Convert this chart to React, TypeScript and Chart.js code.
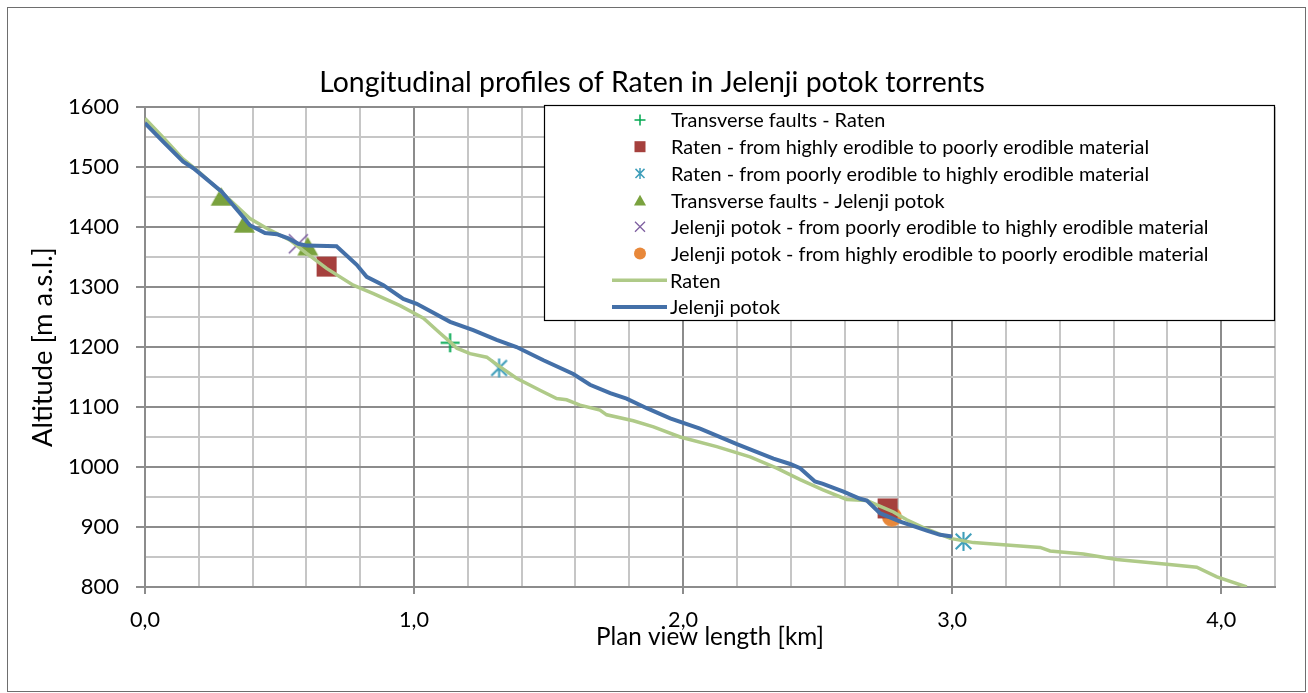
import React, { useEffect, useRef } from "react";
import { Chart, registerables } from "chart.js";

Chart.register(...registerables);

// ---------- texts ----------
const TITLE = "Longitudinal profiles of Raten in Jelenji potok torrents";
const X_TITLE = "Plan view length [km]";
const Y_TITLE = "Altitude [m a.s.l.]";

// ---------- axis ----------
const X_MIN = 0;
const X_MAX = 4.2;
const X_STEP = 0.2;
const Y_MIN = 800;
const Y_MAX = 1600;
const Y_STEP = 50;

// ---------- profile lines ----------
const ratenX = [0, 0.07, 0.14, 0.2, 0.25, 0.316, 0.39, 0.452, 0.539, 0.601, 0.675, 0.774, 0.849, 0.948, 1.035, 1.097, 1.14, 1.159, 1.208, 1.27, 1.32, 1.381, 1.468, 1.53, 1.567, 1.617, 1.691, 1.716, 1.815, 1.89, 1.989, 2.125, 2.249, 2.348, 2.435, 2.52, 2.608, 2.683, 2.782, 2.831, 2.893, 2.993, 3.079, 3.178, 3.327, 3.364, 3.488, 3.612, 3.798, 3.909, 3.984, 4.095];
const ratenY = [1581, 1548, 1514, 1492, 1472, 1445, 1414, 1398, 1378, 1356, 1331, 1303, 1289, 1269, 1248, 1223, 1206, 1198, 1189, 1183, 1167, 1148, 1128, 1114, 1112, 1103, 1095, 1087, 1077, 1067, 1050, 1034, 1017, 998, 979, 962, 946, 944, 925, 912, 899, 881, 874, 871, 866, 860, 855, 846, 838, 833, 817, 800];

const jelenjiX = [0, 0.07, 0.142, 0.18, 0.285, 0.353, 0.39, 0.446, 0.49, 0.533, 0.57, 0.601, 0.712, 0.787, 0.824, 0.886, 0.96, 1.01, 1.134, 1.22, 1.307, 1.381, 1.481, 1.592, 1.654, 1.729, 1.79, 1.865, 1.952, 2.063, 2.2, 2.336, 2.398, 2.435, 2.49, 2.52, 2.596, 2.658, 2.683, 2.732, 2.807, 2.906, 2.955, 3.0];
const jelenjiY = [1573, 1541, 1509, 1498, 1459, 1423, 1403, 1390, 1388, 1381, 1372, 1369, 1368, 1337, 1317, 1303, 1280, 1272, 1242, 1228, 1212, 1200, 1178, 1155, 1137, 1123, 1114, 1098, 1081, 1064, 1038, 1014, 1005, 998, 976, 972, 959, 947, 944, 923, 909, 894, 887, 884];

// ---------- markers ----------
const faultsRatenX = [1.134];
const faultsRatenY = [1207];
const ratenHighToPoorX = [0.675, 2.76];
const ratenHighToPoorY = [1334, 931];
const ratenPoorToHighX = [1.316, 3.042];
const ratenPoorToHighY = [1165, 876];
const faultsJelenjiX = [0.283, 0.369, 0.605];
const faultsJelenjiY = [1451, 1406, 1368];
const jelenjiPoorToHighX = [0.57];
const jelenjiPoorToHighY = [1372];
const jelenjiHighToPoorX = [2.776];
const jelenjiHighToPoorY = [917];

// ---------- colours / styles ----------
const C_RATEN = "#AFCA88";
const C_JELENJI = "#4470A8";
const C_PLUS = "#00A850";
const C_SQUARE = "#A5403D";
const C_ASTER = "#3E9EBA";
const C_TRI = "#7AA23E";
const C_XMARK = "#7E5FA0";
const C_CIRCLE = "#E8883A";
const GRID_MINOR = "#C6C6C6";
const GRID_MAJOR = "#8C8C8C";
const FONT = "Lato, 'Open Sans', sans-serif";

type MarkerType = "plus" | "square" | "asterisk" | "triangle" | "xmark" | "circle";

function drawMarker(ctx: CanvasRenderingContext2D, type: MarkerType, cx: number, cy: number, s: number, color: string) {
  const h = s / 2;
  ctx.save();
  ctx.fillStyle = color;
  ctx.strokeStyle = color;
  ctx.lineCap = "butt";
  ctx.beginPath();
  switch (type) {
    case "plus":
      ctx.lineWidth = Math.max(1.5, s / 9);
      ctx.moveTo(cx - h, cy); ctx.lineTo(cx + h, cy);
      ctx.moveTo(cx, cy - h); ctx.lineTo(cx, cy + h);
      ctx.stroke();
      break;
    case "square":
      ctx.fillRect(cx - h, cy - h, s, s);
      break;
    case "asterisk": {
      ctx.lineWidth = Math.max(1.5, s / 9);
      const d = h * 0.82;
      ctx.moveTo(cx, cy - h); ctx.lineTo(cx, cy + h);
      ctx.moveTo(cx - d, cy - d); ctx.lineTo(cx + d, cy + d);
      ctx.moveTo(cx - d, cy + d); ctx.lineTo(cx + d, cy - d);
      ctx.stroke();
      break;
    }
    case "triangle": {
      const th = s * 0.88;
      ctx.moveTo(cx, cy - th / 2);
      ctx.lineTo(cx + h, cy + th / 2);
      ctx.lineTo(cx - h, cy + th / 2);
      ctx.closePath();
      ctx.fill();
      break;
    }
    case "xmark":
      ctx.lineWidth = Math.max(1.3, s / 12);
      ctx.moveTo(cx - h, cy - h); ctx.lineTo(cx + h, cy + h);
      ctx.moveTo(cx - h, cy + h); ctx.lineTo(cx + h, cy - h);
      ctx.stroke();
      break;
    case "circle":
      ctx.arc(cx, cy, h, 0, Math.PI * 2);
      ctx.fill();
      break;
  }
  ctx.restore();
}

function markerImage(type: MarkerType, s: number, color: string): HTMLCanvasElement {
  const pad = 4;
  const size = Math.ceil(s + pad * 2);
  const c = document.createElement("canvas");
  c.width = size;
  c.height = size;
  const ctx = c.getContext("2d")!;
  drawMarker(ctx, type, size / 2, size / 2, s, color);
  return c;
}

function fitSize(text: string, family: string, target: number): number {
  const ctx = document.createElement("canvas").getContext("2d")!;
  ctx.font = `100px ${family}`;
  const w = ctx.measureText(text).width;
  return w > 0 ? (100 * target) / w : 20;
}

const isInt = (v: number) => Math.abs(v - Math.round(v)) < 1e-6;
const isHundred = (v: number) => Math.abs(v / 100 - Math.round(v / 100)) < 1e-6;
const pts = (xs: number[], ys: number[]) => xs.map((x, i) => ({ x, y: ys[i] }));

export default function App() {
  const ref = useRef<HTMLCanvasElement | null>(null);

  useEffect(() => {
    if (!ref.current) return;

    const titleSize = fitSize(TITLE, FONT, 666);
    const xTitleSize = fitSize(X_TITLE, FONT, 228);
    const yTitleSize = fitSize(Y_TITLE, FONT, 200);
    const legendSize = fitSize("Jelenji potok - from highly erodible to poorly erodible material", FONT, 538);
    const xTickSize = fitSize("0,0", FONT, 30);
    const yTickSize = fitSize("1600", FONT, 51);

    const markerDefs: { label: string; type: MarkerType; color: string; xs: number[]; ys: number[]; size: number; lsize: number }[] = [
      { label: "Transverse faults - Raten", type: "plus", color: C_PLUS, xs: faultsRatenX, ys: faultsRatenY, size: 19, lsize: 11 },
      { label: "Raten - from highly erodible to poorly erodible material", type: "square", color: C_SQUARE, xs: ratenHighToPoorX, ys: ratenHighToPoorY, size: 20, lsize: 11 },
      { label: "Raten - from poorly erodible to highly erodible material", type: "asterisk", color: C_ASTER, xs: ratenPoorToHighX, ys: ratenPoorToHighY, size: 19, lsize: 11 },
      { label: "Transverse faults - Jelenji potok", type: "triangle", color: C_TRI, xs: faultsJelenjiX, ys: faultsJelenjiY, size: 21, lsize: 12 },
      { label: "Jelenji potok - from poorly erodible to highly erodible material", type: "xmark", color: C_XMARK, xs: jelenjiPoorToHighX, ys: jelenjiPoorToHighY, size: 19, lsize: 10 },
      { label: "Jelenji potok - from highly erodible to poorly erodible material", type: "circle", color: C_CIRCLE, xs: jelenjiHighToPoorX, ys: jelenjiHighToPoorY, size: 20, lsize: 12 },
    ];

    const lineDefs = [
      { label: "Raten", color: C_RATEN, width: 3.5 },
      { label: "Jelenji potok", color: C_JELENJI, width: 4 },
    ];

    const datasets: any[] = markerDefs.map((m) => ({
      label: m.label,
      data: pts(m.xs, m.ys),
      pointStyle: markerImage(m.type, m.size, m.color),
      pointRadius: 10,
      pointHoverRadius: 10,
      showLine: false,
      order: 0,
    }));
    datasets.push({
      label: "Raten",
      data: pts(ratenX, ratenY),
      showLine: true,
      borderColor: C_RATEN,
      borderWidth: 3.5,
      pointRadius: 0,
      tension: 0,
      order: -1,
    });
    datasets.push({
      label: "Jelenji potok",
      data: pts(jelenjiX, jelenjiY),
      showLine: true,
      borderColor: C_JELENJI,
      borderWidth: 4,
      pointRadius: 0,
      tension: 0,
      order: -2,
    });

    const titlePlugin = {
      id: "fixedTitle",
      afterDraw(chart: any) {
        const { ctx } = chart;
        ctx.save();
        ctx.font = `${titleSize}px ${FONT}`;
        ctx.fillStyle = "#000";
        ctx.textAlign = "center";
        ctx.textBaseline = "middle";
        ctx.fillText(TITLE, 644, 75);
        ctx.restore();
      },
    };

    const legendPlugin = {
      id: "boxLegend",
      afterDraw(chart: any) {
        const { ctx, chartArea } = chart;
        const w = 731;
        const h = 216;
        const left = chartArea.right - w;
        const top = chartArea.top - 2;
        ctx.save();
        ctx.fillStyle = "#ffffff";
        ctx.fillRect(left, top, w, h);
        ctx.strokeStyle = "#000000";
        ctx.lineWidth = 1.2;
        ctx.strokeRect(left + 0.5, top + 0.5, w - 1, h - 1);
        ctx.font = `${legendSize}px ${FONT}`;
        ctx.textBaseline = "middle";
        ctx.textAlign = "left";
        const rowH = 26.7;
        const textX = left + 127;
        const markX = left + 96;
        markerDefs.forEach((m, i) => {
          const y = top + 15 + rowH * i;
          drawMarker(ctx, m.type, markX, y, m.lsize, m.color);
          ctx.fillStyle = "#000";
          ctx.fillText(m.label, textX, y + 1);
        });
        lineDefs.forEach((l, j) => {
          const y = top + 15 + rowH * (markerDefs.length + j);
          ctx.strokeStyle = l.color;
          ctx.lineWidth = l.width;
          ctx.beginPath();
          ctx.moveTo(left + 68, y);
          ctx.lineTo(left + 123, y);
          ctx.stroke();
          ctx.fillStyle = "#000";
          ctx.fillText(l.label, textX - 1, y + 1);
        });
        ctx.restore();
      },
    };

    const xTitleLH = xTitleSize * 1.2;
    const yTitleLH = yTitleSize * 1.2;
    const xTickLH = xTickSize * 1.2;

    const chart = new Chart(ref.current, {
      type: "scatter",
      data: { datasets },
      plugins: [legendPlugin, titlePlugin],
      options: {
        responsive: false,
        animation: false,
        events: [],
        layout: { padding: { left: 0, right: 30, top: 99, bottom: 0 } },
        plugins: {
          legend: { display: false },
          tooltip: { enabled: false },
          title: { display: false },
        },
        scales: {
          x: {
            type: "linear",
            position: "bottom",
            min: X_MIN,
            max: X_MAX,
            afterFit: (scale: any) => {
              scale.height = 104;
            },
            ticks: {
              stepSize: X_STEP,
              autoSkip: false,
              maxRotation: 0,
              color: "#000",
              font: { family: FONT, size: xTickSize, lineHeight: 1.2 },
              padding: 612 - 579 - 7 - xTickLH / 2,
              callback: (v: any) => (isInt(Number(v)) ? Number(v).toFixed(1).replace(".", ",") : ""),
            },
            grid: {
              color: (c: any) => (c.tick && isInt(c.tick.value) ? GRID_MAJOR : GRID_MINOR),
              lineWidth: 2,
              drawTicks: true,
              tickLength: 7,
              tickColor: (c: any) => (c.tick && isInt(c.tick.value) ? GRID_MAJOR : "rgba(0,0,0,0)"),
            },
            border: { display: true, color: GRID_MAJOR, width: 2 },
            title: {
              display: true,
              text: X_TITLE,
              color: "#000",
              font: { family: FONT, size: xTitleSize, lineHeight: 1.2 },
              padding: { top: 0, bottom: 683 - 629 - xTitleLH / 2 },
            },
          },
          y: {
            type: "linear",
            position: "left",
            min: Y_MIN,
            max: Y_MAX,
            afterFit: (scale: any) => {
              scale.width = 137;
            },
            ticks: {
              stepSize: Y_STEP,
              autoSkip: false,
              color: "#000",
              font: { family: FONT, size: yTickSize, lineHeight: 1.2 },
              padding: 17,
              callback: (v: any) => (isHundred(Number(v)) ? String(Math.round(Number(v))) : ""),
            },
            grid: {
              color: (c: any) => (c.tick && isHundred(c.tick.value) ? GRID_MAJOR : GRID_MINOR),
              lineWidth: 2,
              drawTicks: true,
              tickLength: 9,
              tickColor: (c: any) => (c.tick && isHundred(c.tick.value) ? GRID_MAJOR : "rgba(0,0,0,0)"),
            },
            border: { display: true, color: GRID_MAJOR, width: 2 },
            title: {
              display: true,
              text: Y_TITLE,
              color: "#000",
              font: { family: FONT, size: yTitleSize, lineHeight: 1.2 },
              padding: { top: 35 - yTitleLH / 2, bottom: 0 },
            },
          },
        },
      } as any,
    });

    return () => {
      chart.destroy();
    };
  }, []);

  return (
    <div
      style={{
        position: "absolute",
        left: 7,
        top: 7,
        width: 1299,
        height: 685,
        border: "1px solid #6e6e6e",
        boxSizing: "border-box",
        background: "#fff",
      }}
    >
      <canvas ref={ref} width={1297} height={683} style={{ display: "block", width: 1297, height: 683 }} />
    </div>
  );
}
